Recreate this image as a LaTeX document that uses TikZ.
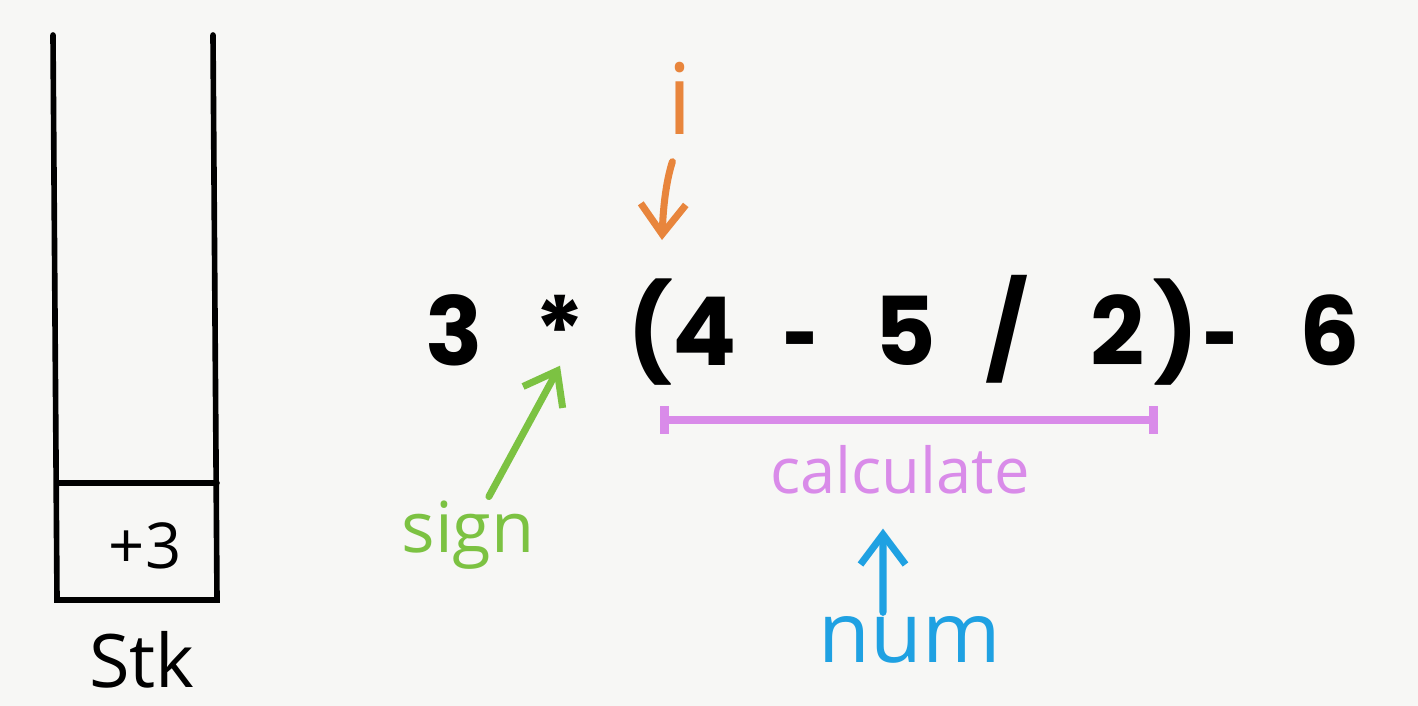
\documentclass[tikz,border=0pt]{standalone}
\usepackage{fontspec}
\usetikzlibrary{arrows.meta, positioning}
\newfontfamily\exprfont{Poppins}
\newfontfamily\dashfont{Liberation Sans}
\newfontfamily\handfont{Open Sans}
\definecolor{paper}{HTML}{F7F7F5}
\definecolor{iorange}{HTML}{E8853C}
\definecolor{signgreen}{HTML}{7CC242}
\definecolor{calcpurple}{HTML}{D98BE9}
\definecolor{numblue}{HTML}{1FA1E2}

\begin{document}
\begin{tikzpicture}[
    x=0.01cm, y=-0.01cm,
    >={Straight Barb[length=3mm, width=4.5mm]},
    wall/.style={line width=1.6pt, line cap=round},
    sym/.style={font=\exprfont\bfseries\fontsize{27}{30}\selectfont, inner sep=0pt, anchor=base},
    dash sym/.style={sym, font=\dashfont\bfseries\fontsize{30}{32}\selectfont},
    hand/.style={font=\handfont\fontsize{20}{24}\selectfont, inner sep=1pt},
    pointer/.style={->, line width=2pt, line cap=round},
    span/.style={{Bar[width=2.7mm]}-{Bar[width=2.7mm]}, line width=2.5pt, calcpurple}
]

% Paper
\fill[paper] (0,0) rectangle (1418,706);

% Stack
\draw[wall] (53,35) -- (57,600) -- (217,600) -- (213,35);
\draw[wall] (57,483) -- (217,483);
\node[hand, font=\handfont\fontsize{18}{20}\selectfont] (top) at (145,546) {+3};
\node[hand, inner sep=0pt, font=\handfont\fontsize{21}{24}\selectfont] (stk) at (142,660) {Stk};

% Expression
\node[sym] (three)  at (454,365) {3};
\node[sym] (star)   at (560,365) {*};
\node[sym] (lparen) at (650,365) {(};
\node[sym] (four)   at (705,365) {4};
\node[dash sym] (minus)  at (800,365) {-};
\node[sym] (five)   at (905,365) {5};
\node[sym] (slash)  at (1007,365) {/};
\node[sym] (two)    at (1118,365) {2};
\node[sym] (rparen) at (1176,365) {)};
\node[dash sym] (minusb) at (1220,365) {-};
\node[sym] (six)    at (1330,365) {6};

% Pointer i
\node[hand, iorange, font=\handfont\fontsize{28}{30}\selectfont] (ptr) at (680,98) {i};
\coordinate (ihead) at (662,240);
\draw[pointer, iorange, shorten <=7pt] (ptr.south) to[bend right=8] (ihead);

% Sign
\node[hand, signgreen] (sign) at (468,535) {sign};
\draw[pointer, signgreen] (sign) -- (star.south);

% Bracket and calculate
\coordinate (calcleft) at (660,420);
\coordinate (calcright) at (1158,420);
\draw[span] (calcleft) -- (calcright);
\node[hand, calcpurple, font=\handfont\fontsize{18}{22}\selectfont] (calc) at (900,470) {calculate};

% Num
\node[hand, numblue, font=\handfont\fontsize{24}{28}\selectfont] (num) at (910,640) {num};
\draw[pointer, numblue] ([xshift=-0.27cm]num.north) -- ([xshift=-0.17cm, yshift=-0.3cm]calc.south);

\end{tikzpicture}
\end{document}
